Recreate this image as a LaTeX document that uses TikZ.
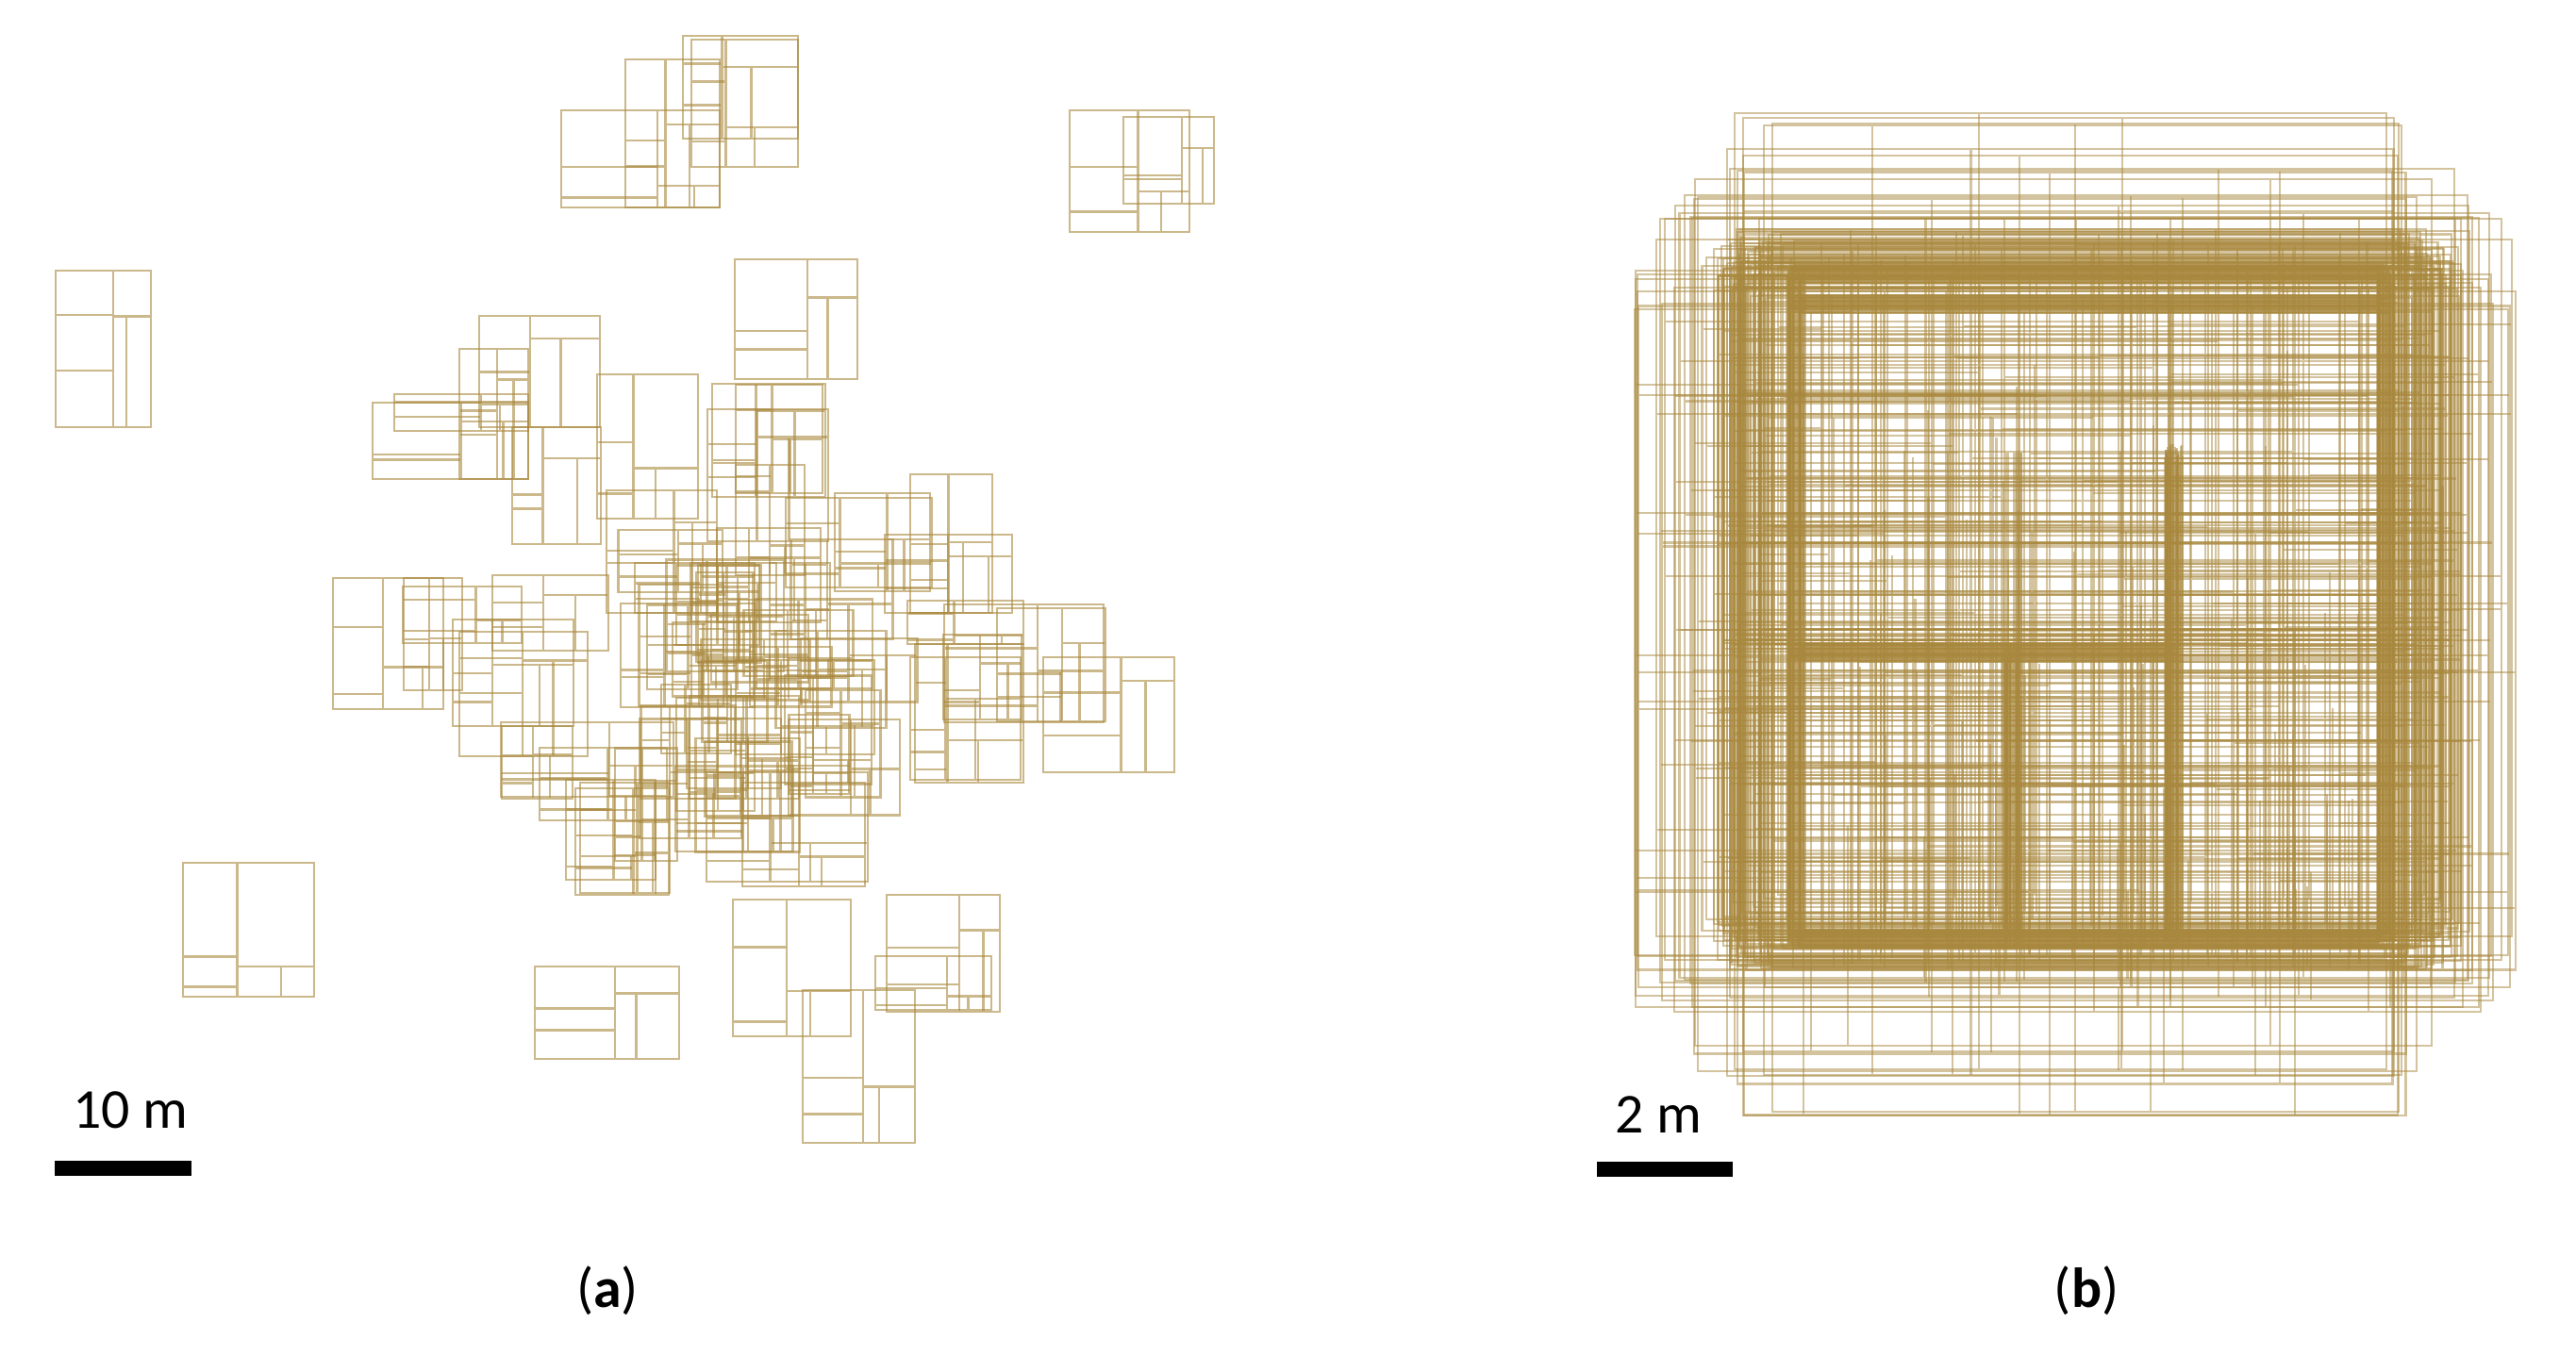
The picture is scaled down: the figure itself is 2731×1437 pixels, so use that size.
\documentclass[tikz,border=0pt]{standalone}
\usepackage{fontspec}
\setmainfont{Carlito}
\definecolor{bldgcol}{RGB}{168,136,62}
\tikzset{
  bline/.style={draw=bldgcol, draw opacity=0.6, line width=0.7pt},
  blineb/.style={draw=bldgcol, draw opacity=0.5, line width=0.6pt},
  lbl/.style={inner sep=0pt, font=\fontsize{17}{20}\selectfont},
  scalebar/.style={fill=black}
}
\newcommand\bldg[5][bline]{%
  \pgfmathsetmacro\qbx{#2}\pgfmathsetmacro\qby{#3}%
  \pgfmathsetmacro\qbw{#4}\pgfmathsetmacro\qbh{#5}%
  \pgfmathsetmacro\qva{\qbx+\qbw*(0.3+0.35*rnd)}%
  \pgfmathsetmacro\qha{\qby+\qbh*(0.2+0.6*rnd)}%
  \pgfmathsetmacro\qhb{\qby+\qbh*(0.2+0.6*rnd)}%
  \pgfmathsetmacro\qhc{\qhb+(\qby+\qbh-\qhb)*(0.3+0.4*rnd)}%
  \pgfmathsetmacro\qvb{\qva+(\qbx+\qbw-\qva)*(0.3+0.4*rnd)}%
  \draw[#1] (\qbx,\qby) rectangle (\qbx+\qbw,\qby+\qbh)
     (\qva,\qby) -- (\qva,\qby+\qbh)
     (\qbx,\qha) -- (\qva,\qha)
     (\qva,\qhb) -- (\qbx+\qbw,\qhb)
     (\qvb,\qhb) -- (\qvb,\qby+\qbh)
     (\qbx,\qhc) -- (\qva,\qhc);
}
\newcommand\bldgb[4]{%
  \pgfmathsetmacro\qbx{#1}\pgfmathsetmacro\qby{#2}%
  \pgfmathsetmacro\qbw{#3}\pgfmathsetmacro\qbh{#4}%
  \pgfmathsetmacro\qaa{\qbx+\qbw*(0.08+0.84*rnd)}%
  \pgfmathsetmacro\qab{\qbx+\qbw*(0.08+0.84*rnd)}%
  \pgfmathsetmacro\qba{\qby+\qbh*(0.08+0.84*rnd)}%
  \pgfmathsetmacro\qbb{\qby+\qbh*(0.08+0.84*rnd)}%
  \pgfmathsetmacro\qbc{\qby+\qbh*(0.08+0.84*rnd)}%
  \pgfmathsetmacro\qbd{\qby+\qbh*(0.08+0.84*rnd)}%
  \draw[blineb] (\qbx,\qby) rectangle (\qbx+\qbw,\qby+\qbh)
     (\qaa,\qby) -- (\qaa,\qby+\qbh)
     (\qab,\qba) -- (\qab,\qby+\qbh)
     (\qbx,\qbb) -- (\qbx+\qbw,\qbb)
     (\qbx,\qbc) -- (\qaa,\qbc)
     (\qaa,\qbd) -- (\qbx+\qbw,\qbd);
}
\begin{document}
\begin{tikzpicture}[x=0.01cm,y=-0.01cm]
\useasboundingbox (0,0) rectangle (2731,1437);
\pgfmathsetseed{7}
% ---------- panel (a): explicit buildings ----------
\foreach \ax/\ay/\aw/\ah in {
  59/287/101/166, 595/117/168/103, 663/63/100/157, 724/38/122/109, 733/42/113/135,
  1134/117/127/129, 1191/124/96/92, 779/275/130/127, 194/915/139/142,
  567/1025/153/98, 777/954/125/145, 940/949/120/124, 851/1050/119/162, 928/1014/123/57,
  508/335/128/118, 487/370/73/138, 395/427/165/81, 418/418/142/39, 543/453/94/124,
  633/397/107/153, 755/407/120/120, 750/434/128/140, 780/408/92/115, 780/493/73/117,
  833/528/155/95, 965/503/87/147, 938/567/135/83, 643/520/117/130, 353/613/117/139,
  428/613/62/119, 480/657/128/113, 487/670/136/132, 532/770/75/77, 572/793/135/77,
  600/827/95/106, 615/830/95/117, 658/640/142/110, 717/740/83/120, 780/700/147/100,
  787/830/130/110, 760/560/110/100, 962/637/123/46, 970/683/115/147, 1000/673/83/90,
  1057/645/115/120, 1106/697/139/122, 1001/641/169/125, 965/697/117/130, 885/523/101/104,
  522/610/123/80, 673/597/127/53, 427/622/126/60, 531/766/183/79, 610/836/99/113, 749/819/171/116}
  {\bldg{\ax}{\ay}{\aw}{\ah}}
% ---------- panel (a): dense core ----------
\foreach \i in {1,...,32}{
  \pgfmathsetmacro\rx{640+220*rnd}\pgfmathsetmacro\ry{560+260*rnd}
  \pgfmathsetmacro\rw{60+70*rnd}\pgfmathsetmacro\rh{60+70*rnd}
  \bldg{\rx}{\ry}{\rw}{\rh}
}
% ---------- panel (b): superposed buildings ----------
\foreach \i in {1,...,80}{
  \pgfmathsetmacro\rw{720+55*rand}\pgfmathsetmacro\rh{720+55*rand}
  \pgfmathsetmacro\rx{2212+25*rand-\rw/2}\pgfmathsetmacro\ry{640+25*rand-\rh/2}
  \bldgb{\rx}{\ry}{\rw}{\rh}
}
\foreach \i in {1,...,28}{
  \pgfmathsetmacro\rt{rnd}
  \pgfmathsetmacro\rw{644+293*\rt}\pgfmathsetmacro\rh{1087-361*\rt-60*rnd}
  \pgfmathsetmacro\rx{2197+min(25,470-\rw/2)*rand-\rw/2}\pgfmathsetmacro\ry{655+min(40,543-\rh/2)*rand-\rh/2}
  \bldgb{\rx}{\ry}{\rw}{\rh}
}
\foreach \i in {1,...,35}{
  \pgfmathsetmacro\jx{10*rand}\pgfmathsetmacro\jy{10*rand}
  \begin{scope}[shift={(\jx,\jy)}]
    \draw[blineb] (1905,290) rectangle (2530,995)
      (1905,322) -- (2530,322)
      (2135,691) -- (2135,995) (2305,480) -- (2305,995)
      (1905,691) -- (2305,691);
  \end{scope}
}
\foreach \i in {1,...,8}{
  \pgfmathsetmacro\jx{10*rand}
  \draw[blineb] (2135+\jx,480) -- (2135+\jx,691);
}
% ---------- scale bars and labels ----------
\fill[scalebar] (58,1231) rectangle (203,1247);
\node[lbl] (s10) at (138,1177) {10 m};
\fill[scalebar] (1693,1232) rectangle (1837,1248);
\node[lbl] (s2) at (1758,1182) {2 m};
\node[lbl] (capa) at (644,1369) {(\textbf{a})};
\node[lbl] (capb) at (2212,1369) {(\textbf{b})};
\end{tikzpicture}
\end{document}
